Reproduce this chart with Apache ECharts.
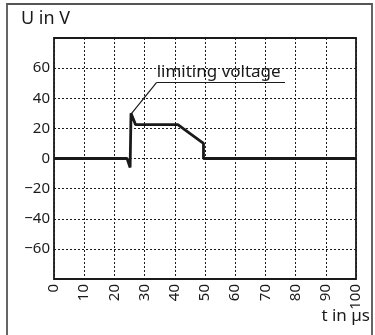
<!DOCTYPE html>
<html><head><meta charset="utf-8">
<script src="https://cdn.jsdelivr.net/npm/echarts@6/dist/echarts.min.js"></script>
<style>html,body{margin:0;padding:0;background:#fff}#c{width:375px;height:335px}</style>
</head><body><div id="c"></div>
<script>
const tValues = [0, 24.2, 25.2, 25.5, 27, 41, 49.5, 49.5, 100];
const uValues = [0, 0, -6, 30, 22.5, 22.5, 10, 0, 0];
const xTicks = [0, 10, 20, 30, 40, 50, 60, 70, 80, 90, 100];
const yTicks = [-60, -40, -20, 0, 20, 40, 60];
const annotationLabel = 'limiting voltage';
const annotationPeak = [25.7, 30];
const annotationKnee = [34, 50.5];
const annotationEnd = [76.5, 50.5];

const FONT = 'Noto Sans';
const chart = echarts.init(document.getElementById('c'), null, {renderer: 'canvas'});
const fmt = v => (v < 0 ? '\u2212' + Math.abs(v) : String(v));
chart.setOption({
  animation: false,
  grid: {left: 54, right: 19, top: 38, bottom: 56, show: true, borderColor: '#1a1a1a', borderWidth: 1.8, containLabel: false},
  xAxis: {
    type: 'value', min: 0, max: 100, interval: 10,
    axisLine: {show: false}, axisTick: {show: false},
    axisLabel: {rotate: 90, color: '#1a1a1a', fontFamily: FONT, fontSize: 15, margin: 5,
      formatter: v => xTicks.includes(v) ? fmt(v) : ''},
    splitLine: {show: true, lineStyle: {color: '#1a1a1a', type: [2, 2], width: 1}}
  },
  yAxis: {
    type: 'value', min: -80, max: 80, interval: 20,
    axisLine: {show: false}, axisTick: {show: false},
    axisLabel: {color: '#1a1a1a', fontFamily: FONT, fontSize: 15, margin: 4,
      formatter: v => yTicks.includes(v) ? fmt(v) : ''},
    splitLine: {show: true, lineStyle: {color: '#1a1a1a', type: [2, 2], width: 1}}
  },
  series: [{
    type: 'line', data: tValues.map((t, i) => [t, uValues[i]]),
    symbol: 'none', lineStyle: {color: '#1a1a1a', width: 2.8}, z: 5,
    markLine: {
      silent: true, symbol: 'none', animation: false,
      lineStyle: {color: '#1a1a1a', width: 1.2, type: 'solid'},
      label: {show: false},
      data: [
        [{coord: annotationPeak}, {coord: annotationKnee}],
        [{coord: annotationKnee}, {coord: annotationEnd, label: {show: true, position: 'insideStartTop', formatter: annotationLabel, color: '#1a1a1a', fontFamily: FONT, fontSize: 17, distance: [0, 2]}}]
      ]
    }
  }],
  graphic: [
    {type: 'rect', shape: {x: 7, y: 4, width: 365, height: 340}, style: {fill: 'none', stroke: '#555', lineWidth: 1.8}, silent: true},
    {type: 'text', left: 21, top: 10, style: {text: 'U in V', font: '18px "Noto Sans"', fill: '#1a1a1a'}},
    {type: 'text', right: 5, top: 308, style: {text: 't in \u00b5s', font: '17px "Noto Sans"', fill: '#1a1a1a'}}
  ]
});
</script></body></html>
